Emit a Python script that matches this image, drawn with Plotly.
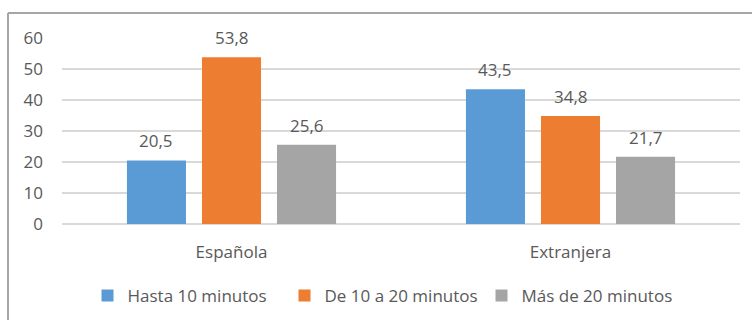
import plotly.graph_objects as go

# Chart data
categories = ["Española", "Extranjera"]
series_names = ["Hasta 10 minutos", "De 10 a 20 minutos", "Más de 20 minutos"]
series_values = [
    [20.5, 43.5],
    [53.8, 34.8],
    [25.6, 21.7],
]
series_colors = ["#5B9BD5", "#ED7D31", "#A5A5A5"]
y_ticks = [0, 10, 20, 30, 40, 50, 60]

W, H = 752, 320
M_L, M_R, M_T, M_B = 62, 12, 38, 96
BARGAP = 0.336
BARGROUPGAP = 0.213
TEXT = "#595959"
FONT = "Open Sans"
FS = 17

fig = go.Figure()
for name, vals, col in zip(series_names, series_values, series_colors):
    fig.add_trace(go.Bar(name=name, x=categories, y=vals, marker_color=col,
                         marker_line_width=0))

# value labels above each bar, shifted to the bar's slot inside the group
plot_w = W - M_L - M_R
slot_px = plot_w / len(categories) * (1 - BARGAP) / len(series_names)
for i, vals in enumerate(series_values):
    shift = (i - (len(series_names) - 1) / 2) * slot_px
    for cat, v in zip(categories, vals):
        fig.add_annotation(x=cat, y=v, xref="x", yref="y",
                           text=f"{v:.1f}".replace(".", ","),
                           showarrow=False, xshift=shift, yanchor="bottom",
                           yshift=6, font=dict(family=FONT, size=FS, color=TEXT))

plot_h = H - M_T - M_B
def py(px):
    return (H - M_B - px) / plot_h
def pxp(px):
    return (px - M_L) / plot_w

# outer frame (top and left edges)
frame = dict(color="#A6A6A6", width=2)
fig.add_shape(type="line", xref="paper", yref="paper",
              x0=pxp(8), x1=pxp(W + 5), y0=py(13), y1=py(13), line=frame)
fig.add_shape(type="line", xref="paper", yref="paper",
              x0=pxp(8), x1=pxp(8), y0=py(13), y1=py(H + 5), line=frame)

fig.update_layout(
    width=W, height=H,
    margin=dict(l=M_L, r=M_R, t=M_T, b=M_B, autoexpand=False),
    paper_bgcolor="white", plot_bgcolor="white",
    barmode="group", bargap=BARGAP, bargroupgap=BARGROUPGAP,
    separators=",.",
    font=dict(family=FONT, size=FS, color=TEXT),
    showlegend=True,
    legend=dict(orientation="h", x=pxp(383), xanchor="center",
                y=py(296), yanchor="middle",
                font=dict(family=FONT, size=FS, color=TEXT),
                entrywidth=152, entrywidthmode="pixels",
                bgcolor="rgba(0,0,0,0)"),
    xaxis=dict(showline=False, showgrid=False, ticks="",
               ticklabelstandoff=16,
               tickfont=dict(family=FONT, size=FS, color=TEXT)),
    yaxis=dict(range=[0, 60], tickvals=y_ticks, showgrid=True,
               gridcolor="#D9D9D9", gridwidth=1.5, zeroline=True,
               zerolinecolor="#D9D9D9", zerolinewidth=1.5, showline=False,
               ticks="", ticklabelstandoff=18,
               tickfont=dict(family=FONT, size=FS, color=TEXT)),
)

fig.write_html("out.html")
